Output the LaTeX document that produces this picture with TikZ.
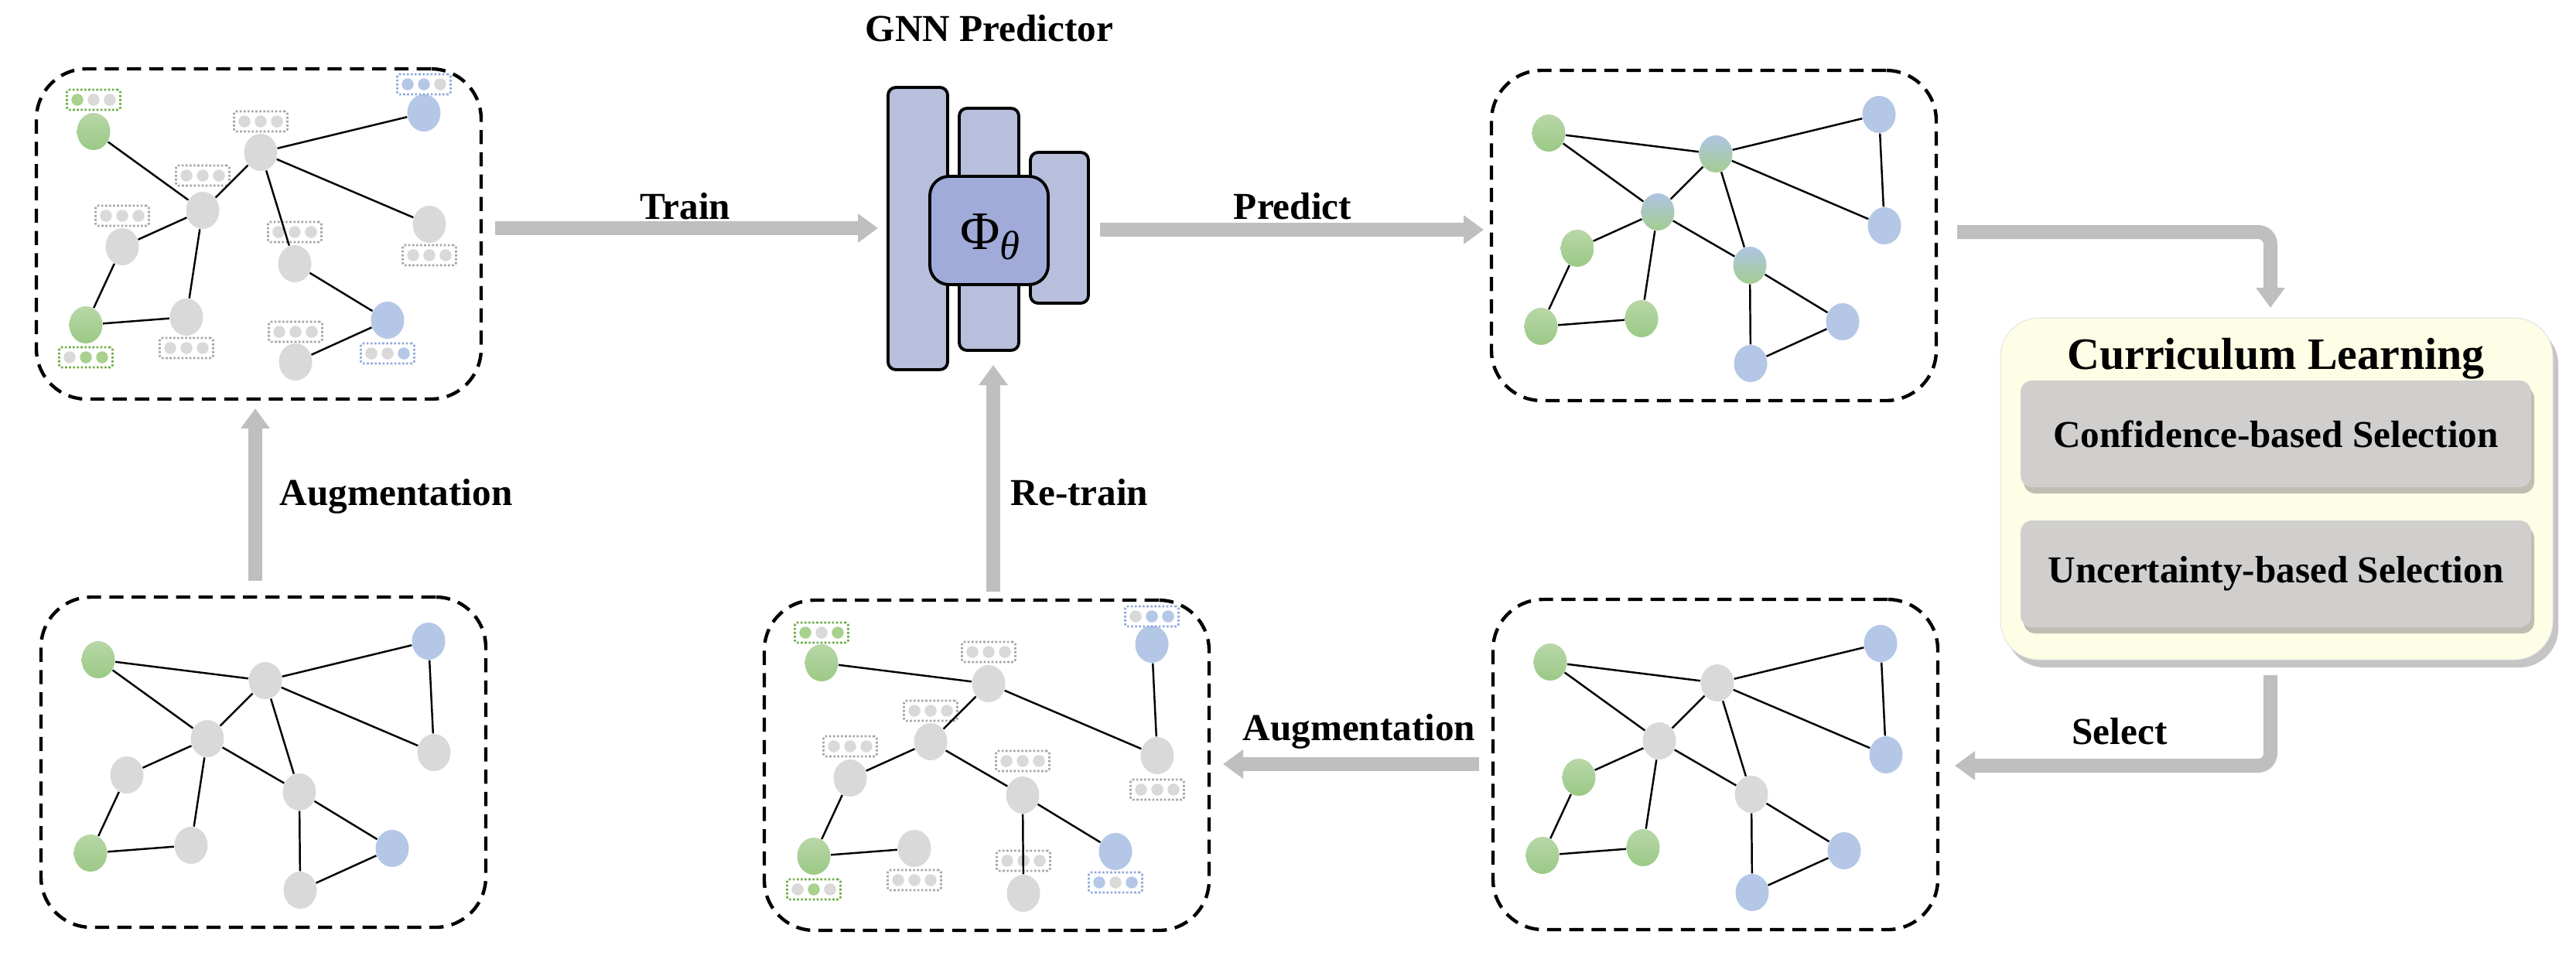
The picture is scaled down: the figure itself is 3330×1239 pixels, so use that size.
\documentclass[tikz,border=0pt]{standalone}
\usepackage{fontspec}
\setmainfont{Liberation Serif}
\usetikzlibrary{shapes.geometric,arrows.meta,shadows,calc}

\definecolor{ngreenT}{RGB}{184,215,168}
\definecolor{ngreenB}{RGB}{155,201,134}
\definecolor{nblue}{RGB}{180,199,231}
\definecolor{ngray}{RGB}{217,217,217}
\definecolor{nmixT}{RGB}{174,196,226}
\definecolor{nmixB}{RGB}{163,205,146}
\definecolor{fgreen}{RGB}{112,173,71}
\definecolor{fblue}{RGB}{143,170,220}
\definecolor{fgray}{RGB}{166,166,166}
\definecolor{cgreen}{RGB}{169,209,142}
\definecolor{arrowgray}{RGB}{191,191,191}
\definecolor{layerfill}{RGB}{184,191,220}
\definecolor{phifill}{RGB}{161,171,218}
\definecolor{clfill}{RGB}{254,254,230}
\definecolor{selfill}{RGB}{208,207,205}

\tikzset{
  gnode/.style={ellipse, inner sep=0pt, minimum width=4.3mm, minimum height=4.8mm, draw=none},
  graynode/.style={gnode, fill=ngray},
  bluenode/.style={gnode, fill=nblue},
  greennode/.style={gnode, top color=ngreenT, bottom color=ngreenB},
  mixnode/.style={gnode, top color=nmixT, bottom color=nmixB},
  colG1/.style={greennode}, colB1/.style={bluenode},
  colG2/.style={greennode}, colB2/.style={bluenode},
  colC/.style={graynode}, colM/.style={graynode}, colL/.style={graynode},
  colR/.style={graynode}, colD/.style={graynode}, colE/.style={graynode},
  colF/.style={graynode},
  gedge/.style={line width=0.7pt, draw=black},
  graphbox/.style={draw=black, line width=1.25pt, dash pattern=on 5.2pt off 3pt,
    rounded corners=6.5mm, minimum width=57.5mm, minimum height=42.7mm, inner sep=0pt},
  featbox/.style={draw=#1, line width=0.75pt, dash pattern=on 0.75pt off 0.7pt,
    rounded corners=0.3mm, minimum width=6.9mm, minimum height=2.6mm, inner sep=0pt},
  featdot/.style={circle, inner sep=0pt, minimum size=1.55mm, fill=#1, draw=none},
  flow/.style={draw=arrowgray, line width=1.8mm, -{Triangle[length=2.6mm, width=3.6mm]}},
  lbl/.style={font=\fontsize{14}{16}\selectfont\bfseries, inner sep=0pt},
  gnnlayer/.style={draw=black, line width=1.1pt, fill=layerfill, rounded corners=1mm, inner sep=0pt},
  phibox/.style={draw=black, line width=1.1pt, fill=phifill, rounded corners=2.5mm, inner sep=0pt,
    minimum width=15.3mm, minimum height=14mm},
  clbox/.style={fill=clfill, draw=black!10, line width=0.3pt, rounded corners=5mm,
    minimum width=71.4mm, minimum height=44.2mm, inner sep=0pt,
    drop shadow={shadow xshift=0.7mm, shadow yshift=-1.0mm, opacity=0.45}},
  cltitle/.style={font=\fontsize{16.5}{19}\selectfont\bfseries, inner sep=0pt},
  selbox/.style={fill=selfill, draw=none, rounded corners=1.5mm,
    minimum width=66mm, minimum height=13.8mm, inner sep=0pt,
    font=\fontsize{14}{16}\selectfont\bfseries,
    drop shadow={shadow xshift=0.4mm, shadow yshift=-0.8mm, opacity=0.5}},
}

\newcommand\graphnodes[1]{%
  \node[colG1] (#1g1) at (74,81) {};
  \node[colB1] (#1b1) at (501,57) {};
  \node[colC]  (#1c)  at (290,108) {};
  \node[colM]  (#1m)  at (215,183) {};
  \node[colL]  (#1l)  at (111,230) {};
  \node[colR]  (#1r)  at (508,201) {};
  \node[colD]  (#1d)  at (334,252) {};
  \node[colG2] (#1g2) at (64,331) {};
  \node[colE]  (#1e)  at (194,321) {};
  \node[colB2] (#1b2) at (454,325) {};
  \node[colF]  (#1f)  at (335,379) {};
}

\newcommand\featbx[6]{%
  \node[featbox=#3] (#1fb) at ($(#1)+(0,#2)$) {};
  \node[featdot=#4] (#1fx) at ($(#1fb)+(-21,0)$) {};
  \node[featdot=#5] (#1fy) at (#1fb) {};
  \node[featdot=#6] (#1fz) at ($(#1fb)+(21,0)$) {};
}

\begin{document}
\begin{tikzpicture}[x=0.1mm, y=-0.1mm]
\fill[white] (0,0) rectangle (3330,1239);
\useasboundingbox (0,0) rectangle (3330,1239);

% ---------- dashed graph frames ----------
\node[graphbox] (boxTL) at (334.5,302.5) {};
\node[graphbox] (boxTR) at (2215.5,304.5) {};
\node[graphbox] (boxBL) at (340.5,985.5) {};
\node[graphbox] (boxBM) at (1275.5,989.5) {};
\node[graphbox] (boxBR) at (2217.5,988.5) {};

% ---------- top-left augmented graph ----------
\begin{scope}[shift={(47,89)}]
  \graphnodes{t}
\end{scope}
\featbx{tg1}{-41}{fgreen}{cgreen}{ngray}{ngray}
\featbx{tb1}{-37}{fblue}{nblue}{nblue}{ngray}
\featbx{tc}{-40}{fgray}{ngray}{ngray}{ngray}
\featbx{tm}{-45}{fgray}{ngray}{ngray}{ngray}
\featbx{tl}{-40}{fgray}{ngray}{ngray}{ngray}
\featbx{td}{-41}{fgray}{ngray}{ngray}{ngray}
\featbx{tr}{40}{fgray}{ngray}{ngray}{ngray}
\featbx{tg2}{42}{fgreen}{ngray}{cgreen}{cgreen}
\featbx{te}{40}{fgray}{ngray}{ngray}{ngray}
\featbx{tf}{-39}{fgray}{ngray}{ngray}{ngray}
\featbx{tb2}{43}{fblue}{ngray}{ngray}{nblue}
\foreach \a/\b in {g1/m, c/b1, c/m, c/d, c/r, m/l, m/e, l/g2, g2/e, d/b2, b2/f}
  \draw[gedge] (t\a) -- (t\b);

% ---------- top-right predicted graph ----------
\begin{scope}[shift={(1928,91)},
  colC/.style={mixnode}, colM/.style={mixnode}, colD/.style={mixnode},
  colL/.style={greennode}, colE/.style={greennode},
  colR/.style={bluenode}, colF/.style={bluenode}]
  \graphnodes{p}
\end{scope}
\foreach \a/\b in {g1/c, g1/m, c/b1, b1/r, c/r, c/m, c/d, m/l, m/e, m/d, l/g2, g2/e, d/b2, d/f, b2/f}
  \draw[gedge] (p\a) -- (p\b);

% ---------- bottom-left original graph ----------
\begin{scope}[shift={(53,772)}]
  \graphnodes{o}
\end{scope}
\foreach \a/\b in {g1/c, g1/m, c/b1, b1/r, c/r, c/m, c/d, m/l, m/e, m/d, l/g2, g2/e, d/b2, d/f, b2/f}
  \draw[gedge] (o\a) -- (o\b);

% ---------- bottom-middle augmented graph ----------
\begin{scope}[shift={(988,776)}]
  \graphnodes{a}
\end{scope}
\featbx{ag1}{-39}{fgreen}{cgreen}{ngray}{cgreen}
\featbx{ab1}{-36}{fblue}{ngray}{nblue}{nblue}
\featbx{ac}{-41}{fgray}{ngray}{ngray}{ngray}
\featbx{am}{-40}{fgray}{ngray}{ngray}{ngray}
\featbx{al}{-41}{fgray}{ngray}{ngray}{ngray}
\featbx{ad}{-44}{fgray}{ngray}{ngray}{ngray}
\featbx{ar}{44}{fgray}{ngray}{ngray}{ngray}
\featbx{ag2}{43}{fgreen}{ngray}{cgreen}{ngray}
\featbx{ae}{41}{fgray}{ngray}{ngray}{ngray}
\featbx{af}{-42}{fgray}{ngray}{ngray}{ngray}
\featbx{ab2}{40}{fblue}{nblue}{ngray}{nblue}
\foreach \a/\b in {g1/c, c/r, c/m, b1/r, m/l, m/d, l/g2, g2/e, d/b2, d/f}
  \draw[gedge] (a\a) -- (a\b);

% ---------- bottom-right selected graph ----------
\begin{scope}[shift={(1930,775)},
  colL/.style={greennode}, colE/.style={greennode},
  colR/.style={bluenode}, colF/.style={bluenode}]
  \graphnodes{s}
\end{scope}
\foreach \a/\b in {g1/c, g1/m, c/b1, b1/r, c/r, c/m, c/d, m/l, m/e, m/d, l/g2, g2/e, d/b2, d/f, b2/f}
  \draw[gedge] (s\a) -- (s\b);

% ---------- GNN predictor ----------
\node[lbl, anchor=base] (gnntitle) at (1279,53) {GNN Predictor};
\node[gnnlayer, minimum width=7.7mm, minimum height=36.5mm] (lay1) at (1186.5,295.5) {};
\node[gnnlayer, minimum width=7.7mm, minimum height=31.3mm] (lay2) at (1278.5,296.5) {};
\node[gnnlayer, minimum width=7.5mm, minimum height=19.5mm] (lay3) at (1369.5,294.5) {};
\node[phibox] (phi) at (1278.5,298) {};
\node[inner sep=0pt, anchor=base] (phitext) at (1280,322)
  {\fontsize{20}{22}\selectfont Φ\raisebox{-1.3mm}{\fontsize{15}{16}\selectfont\itshape θ}};

% ---------- curriculum learning ----------
\node[clbox] (clbox) at (2943,632) {};
\node[cltitle, anchor=base] (cltitletext) at (2942,477) {Curriculum Learning};
\node[selbox] (confsel) at (2942,561) {Confidence-based Selection};
\node[selbox] (uncsel) at (2942,742) {Uncertainty-based Selection};

% ---------- flow arrows ----------
\coordinate (trainA) at (640,295);   \coordinate (trainB) at (1135,295);
\coordinate (predA) at (1422,297);   \coordinate (predB) at (1918,297);
\coordinate (bentA) at (2530,300);   \coordinate (bentB) at (2935,398);
\coordinate (selA) at (2935,873);    \coordinate (selB) at (2527,990);
\coordinate (aug2A) at (1912,988);   \coordinate (aug2B) at (1581,988);
\coordinate (retrA) at (1284,765);   \coordinate (retrB) at (1284,472);
\coordinate (aug1A) at (330,751);    \coordinate (aug1B) at (330,528);

\draw[flow] (trainA) -- (trainB);
\draw[flow] (predA) -- (predB);
\draw[flow, rounded corners=1.6mm] (bentA) -| (bentB);
\draw[flow, rounded corners=1.6mm] (selA) |- (selB);
\draw[flow] (aug2A) -- (aug2B);
\draw[flow] (retrA) -- (retrB);
\draw[flow] (aug1A) -- (aug1B);

% ---------- labels ----------
\node[lbl, anchor=base] (trainlbl) at (886,283) {Train};
\node[lbl, anchor=base] (predlbl) at (1671,283) {Predict};
\node[lbl, anchor=base] (sellbl) at (2740,962) {Select};
\node[lbl, anchor=base] (aug2lbl) at (1757,957) {Augmentation};
\node[lbl, anchor=base west] (retrlbl) at (1306,653) {Re-train};
\node[lbl, anchor=base west] (aug1lbl) at (361,653) {Augmentation};
\end{tikzpicture}
\end{document}
